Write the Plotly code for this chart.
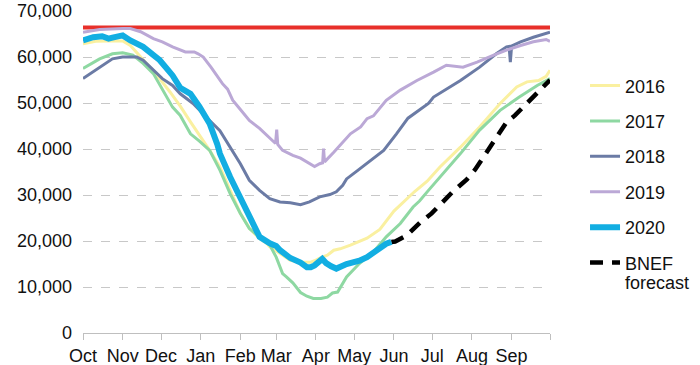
import plotly.graph_objects as go
import pandas as pd

BASE = pd.Timestamp("2018-10-01")

# Storage-year day offsets (from 1 Oct) and storage levels
d2016 = [0, 10, 20, 31, 37, 47, 58, 68, 76, 84, 91, 99, 107, 115, 118, 123, 130, 138, 144, 146, 154, 156, 162, 170, 178, 181, 185, 191, 196, 201, 209, 222, 232, 243, 256, 259, 269, 279, 295, 310, 326, 339, 347, 356, 362, 365]
v2016 = [62900, 63400, 63500, 63500, 62500, 59300, 56000, 52400, 49300, 45900, 43100, 39700, 36100, 31000, 29000, 26000, 22800, 20500, 19400, 18700, 17300, 16900, 15800, 15400, 15400, 15700, 16300, 16900, 18000, 18300, 19100, 20600, 22500, 26500, 29900, 30700, 33000, 36100, 40400, 44800, 49900, 53500, 54600, 54900, 55800, 57100]

d2017 = [0, 13, 23, 31, 39, 47, 55, 62, 70, 76, 84, 91, 99, 107, 115, 123, 130, 138, 146, 151, 156, 159, 164, 170, 175, 180, 186, 191, 195, 199, 206, 216, 227, 237, 248, 258, 263, 270, 279, 295, 310, 326, 341, 355, 365]
v2017 = [57500, 59600, 60700, 60900, 60400, 58600, 56400, 53100, 49100, 47300, 43300, 41700, 39700, 35400, 30300, 26000, 22700, 20900, 19100, 16500, 12900, 12200, 10900, 8800, 8000, 7500, 7500, 7800, 8700, 8900, 12200, 15100, 17600, 20900, 23800, 27400, 28700, 31000, 33900, 39000, 44100, 48400, 51300, 53800, 55300]

d2018 = [0, 13, 23, 31, 42, 47, 55, 62, 70, 76, 86, 91, 99, 107, 115, 123, 130, 138, 146, 151, 154, 162, 170, 177, 185, 193, 198, 203, 206, 214, 224, 235, 245, 254, 270, 274, 295, 310, 323, 331, 333, 334, 335, 342, 352, 365]
v2018 = [55300, 57800, 59600, 60000, 60000, 59300, 57100, 55300, 53800, 52000, 49900, 48400, 46200, 44000, 40400, 36800, 33200, 31000, 29200, 28700, 28500, 28300, 27900, 28500, 29600, 30100, 30700, 32100, 33500, 35200, 37400, 39700, 43300, 46700, 49900, 51300, 54900, 57800, 60700, 62200, 62300, 58900, 62400, 63300, 64300, 65400]

d2019 = [0, 13, 31, 37, 45, 55, 62, 70, 80, 87, 90, 94, 100, 109, 113, 117, 123, 130, 138, 146, 150.5, 151.4, 152.2, 156, 164, 170, 178, 181, 185, 187.3, 188, 188.8, 196, 206, 209, 217, 222, 227, 237, 248, 261, 274, 284, 297, 308, 321, 331, 342, 352, 362, 365]
v2019 = [65400, 66000, 66200, 66200, 65500, 64000, 63300, 62200, 61100, 61100, 60700, 60000, 57800, 54200, 53000, 50600, 48600, 46200, 44500, 42300, 41200, 44200, 41000, 39700, 38600, 38000, 36800, 36200, 36800, 37000, 40100, 37200, 39300, 42300, 43300, 44800, 46600, 47200, 50600, 52800, 54900, 56700, 58200, 57800, 58900, 60400, 61500, 62500, 63300, 63800, 63400]

d2020 = [0, 8, 15, 20, 23, 31, 37, 47, 60, 70, 76, 84, 91, 99, 105, 107, 115, 123, 130, 138, 146, 151, 154, 162, 170, 175, 178, 181, 187, 190, 194, 198, 206, 216, 222, 230, 237, 241]
v2020 = [63600, 64300, 64500, 64000, 64200, 64700, 63600, 62200, 59300, 56000, 53300, 52000, 49200, 45500, 41000, 39000, 33900, 29600, 25200, 20900, 19500, 18900, 18000, 16300, 15300, 14300, 14300, 14700, 16100, 15200, 14500, 14000, 15000, 15700, 16500, 18100, 19400, 19800]

d_fc = [241, 244, 253, 263.4, 272.5, 281.6, 288.2, 300, 306.4, 315.5, 322, 331.2, 337.6, 348, 356, 365]
v_fc = [19800, 19900, 21200, 24000, 26000, 28600, 30500, 33400, 35500, 39300, 41900, 45900, 47300, 50200, 52400, 55000]

d_cap = [0, 365]
v_cap = [66400, 66400]

month_labels = ["Oct", "Nov", "Dec", "Jan", "Feb", "Mar", "Apr", "May", "Jun", "Jul", "Aug", "Sep", ""]

def to_dates(days):
    return [BASE + pd.Timedelta(days=float(d)) for d in days]

month_ticks = [BASE + pd.DateOffset(months=i) for i in range(13)]

FONT = "Liberation Sans, Arial, sans-serif"

fig = go.Figure()
fig.add_trace(go.Scatter(x=to_dates(d_cap), y=v_cap, mode="lines",
                         line=dict(color="#E8302A", width=4), showlegend=False, hoverinfo="skip"))
series = [
    ("2016", d2016, v2016, "#FAF0A0", 3),
    ("2017", d2017, v2017, "#8ED8A2", 3),
    ("2018", d2018, v2018, "#6B7BA5", 3),
    ("2019", d2019, v2019, "#BBA8D6", 3),
]
for i, (name, d, v, col, w) in enumerate(series):
    fig.add_trace(go.Scatter(x=to_dates(d), y=v, mode="lines", name=name, legendgroup=name,
                             legendrank=1000 + i, line=dict(color=col, width=w)))
fig.add_trace(go.Scatter(x=to_dates(d_fc), y=v_fc, mode="lines", name="BNEF", legendgroup="fc",
                         legendrank=1100, line=dict(color="#000000", width=4.5, dash="13px,9px")))
fig.add_trace(go.Scatter(x=to_dates(d2020), y=v2020, mode="lines", name="2020", legendgroup="2020",
                         legendrank=1050, line=dict(color="#12AEE2", width=6)))

fig.add_annotation(text="forecast", xref="paper", yref="paper", x=1.158, y=0.155,
                   xanchor="left", yanchor="middle", showarrow=False, font=dict(size=18),
                   borderpad=0)

fig.update_layout(
    width=700, height=365,
    margin=dict(l=83, r=150, t=11, b=32),
    paper_bgcolor="white", plot_bgcolor="white",
    font=dict(family=FONT, size=18, color="#111111"),
    legend=dict(x=1.075, y=0.825, xanchor="left", yanchor="top", tracegroupgap=9,
                font=dict(size=18), bgcolor="rgba(0,0,0,0)", traceorder="grouped"),
    xaxis=dict(type="date", range=[BASE, BASE + pd.Timedelta(days=365)],
               tickvals=month_ticks, ticktext=month_labels,
               ticks="outside", ticklen=6, tickcolor="#BFBFBF", showgrid=False,
               showline=True, linecolor="#BFBFBF", linewidth=1, fixedrange=True,
               automargin=False),
    yaxis=dict(range=[0, 70000], dtick=10000, tickformat=",", showgrid=True,
               gridcolor="#C8C8C8", griddash="dash", gridwidth=1, zeroline=False,
               showline=False, ticks="", ticklabelstandoff=10, automargin=False),
)
fig.write_html("out.html", config={"displayModeBar": False},
               post_script="document.body.style.margin='0';document.body.style.overflow='hidden';")
